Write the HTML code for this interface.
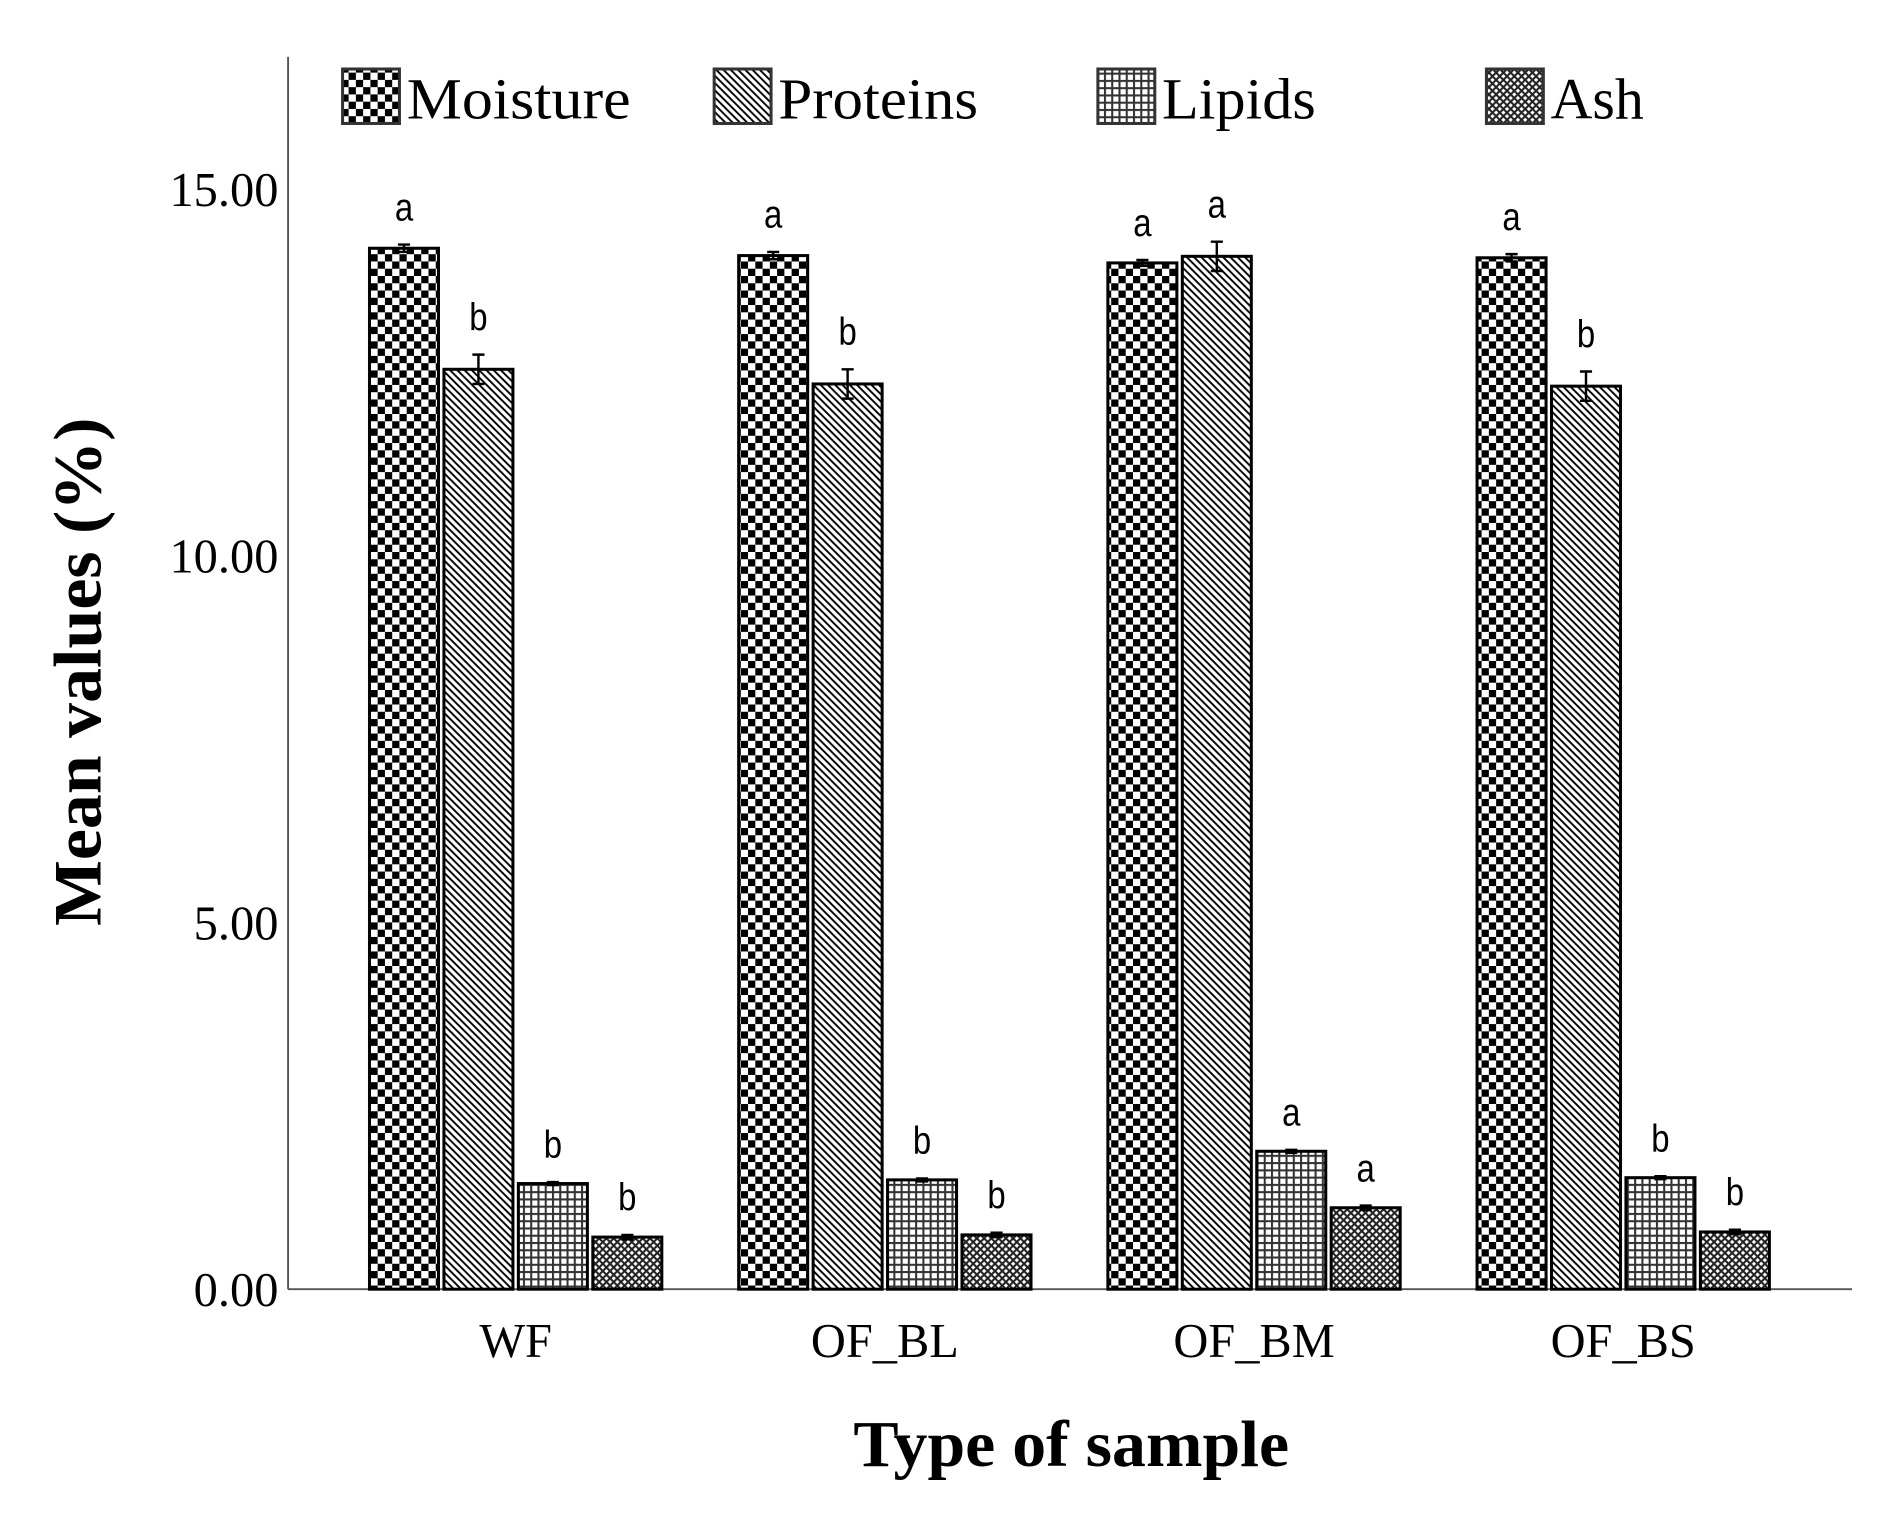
<!DOCTYPE html>
<html><head><meta charset="utf-8"><style>body{margin:0;background:#fff}svg{display:block}</style></head>
<body>
<svg width="1898" height="1521" viewBox="0 0 1568 1256.5" preserveAspectRatio="none" xmlns="http://www.w3.org/2000/svg">
<defs>
<pattern id="pM" width="12" height="12" patternUnits="userSpaceOnUse"><rect width="12" height="12" fill="#fff"/><rect width="6" height="6" fill="#000"/><rect x="6" y="6" width="6" height="6" fill="#000"/></pattern>
<pattern id="pP" width="6" height="6" patternUnits="userSpaceOnUse"><rect width="6" height="6" fill="#fff"/><path d="M-1,-1 L7,7 M-4,2 L4,10 M2,-4 L10,4" stroke="#000" stroke-width="1.6"/></pattern>
<pattern id="pL" width="6" height="6" patternUnits="userSpaceOnUse"><rect width="6" height="6" fill="#fff"/><path d="M0,0.8 H6 M0.8,0 V6" stroke="#333" stroke-width="1.8"/></pattern>
<pattern id="pA" width="6" height="6" patternUnits="userSpaceOnUse"><rect width="6" height="6" fill="#fff"/><path d="M0,0 L6,6 M6,0 L0,6" stroke="#222" stroke-width="1.7"/></pattern>
</defs>
<g id="legend" font-family="Liberation Serif, serif" font-size="48" fill="#000"></g>
<line x1="238" y1="47" x2="238" y2="1065" stroke="#555" stroke-width="1.6"/>
<line x1="238" y1="1065" x2="1530" y2="1065" stroke="#555" stroke-width="1.6"/>
<g id="yticks" font-family="Liberation Serif, serif" font-size="40" text-anchor="end"></g>
<g id="bars"></g>
<g id="xlabels" font-family="Liberation Serif, serif" font-size="40" text-anchor="middle"></g>
<text transform="translate(83,555) rotate(-90)" text-anchor="middle" font-family="Liberation Serif, serif" font-weight="bold" font-size="56" textLength="420" lengthAdjust="spacingAndGlyphs">Mean values (%)</text>
<text x="885" y="1211" text-anchor="middle" font-family="Liberation Serif, serif" font-weight="bold" font-size="54" textLength="360" lengthAdjust="spacingAndGlyphs">Type of sample</text>
</svg>
<script>
const categories = ["WF","OF_BL","OF_BM","OF_BS"];
const seriesNames = ["Moisture","Proteins","Lipids","Ash"];
const moisture = [14.19,14.09,13.99,14.06];
const proteins = [12.54,12.34,14.08,12.31];
const lipids = [1.44,1.49,1.88,1.52];
const ash = [0.71,0.74,1.11,0.78];
const moistureErr = [0.05,0.05,0.04,0.05];
const proteinsErr = [0.2,0.2,0.2,0.2];
const lipidsErr = [0.02,0.02,0.02,0.02];
const ashErr = [0.03,0.03,0.03,0.03];
const moistureLetters = ["a","a","a","a"];
const proteinsLetters = ["b","b","a","b"];
const lipidsLetters = ["b","b","a","b"];
const ashLetters = ["b","b","a","b"];
const yTicks = [0,5,10,15];
const yTickLabels = ["0.00","5.00","10.00","15.00"];

const NS="http://www.w3.org/2000/svg";
const y0=1065, pxPerUnit=303/5;
function yScale(v){return y0 - v*pxPerUnit;}
function groupCenter(i){return 426 + i*305;}
const barW=57, barStep=61.5;
function barX(i,s){return groupCenter(i) - 2*barStep + s*barStep + (barStep-barW)/2;}
function mk(tag,attrs,parent){const e=document.createElementNS(NS,tag);for(const k in attrs)e.setAttribute(k,attrs[k]);parent.appendChild(e);return e;}

const series=[moisture,proteins,lipids,ash];
const errs=[moistureErr,proteinsErr,lipidsErr,ashErr];
const letters=[moistureLetters,proteinsLetters,lipidsLetters,ashLetters];
const fills=["url(#pM)","url(#pP)","url(#pL)","url(#pA)"];

const yt=document.getElementById('yticks');
yTicks.forEach((t,i)=>{
  const e=mk('text',{x:230,y:yScale(t)+14},yt);
  
  
  e.textContent=yTickLabels[i];
});

const bg=document.getElementById('bars');
categories.forEach((c,i)=>{
  series.forEach((arr,s)=>{
    const v=arr[i], x=barX(i,s), top=yScale(v);
    const r=mk('rect',{x:x,y:top,width:barW,height:y0-top,fill:fills[s],stroke:"#000","stroke-width":2.5},bg);
    
    
    const cx=x+barW/2, e=errs[s][i];
    const eb=mk('path',{d:`M${cx},${yScale(v+e)}V${yScale(v-e)}M${cx-5},${yScale(v+e)}H${cx+5}M${cx-5},${yScale(v-e)}H${cx+5}`,stroke:"#000","stroke-width":2,fill:"none"},bg);
    
    
    const t=mk('text',{transform:`translate(${cx},${yScale(v+e)-20}) scale(0.85,1)`,"text-anchor":"middle","font-family":"Liberation Sans, sans-serif","font-size":32},bg);
    
    
    t.textContent=letters[s][i];
  });
  const xl=mk('text',{x:groupCenter(i),y:1121},document.getElementById('xlabels'));
  
  
  xl.textContent=c;
});

const lg=document.getElementById('legend');
const legX=[283,590,907,1228];
const legLen=[185,165,127,77];
seriesNames.forEach((n,s)=>{
  const r=mk('rect',{x:legX[s],y:57,width:47,height:45,fill:fills[s],stroke:"#333","stroke-width":2.5},lg);
  
  
  const t=mk('text',{x:legX[s]+53,y:98,textLength:legLen[s],lengthAdjust:"spacingAndGlyphs"},lg);
  
  
  t.textContent=n;
});
</script>
</body></html>
